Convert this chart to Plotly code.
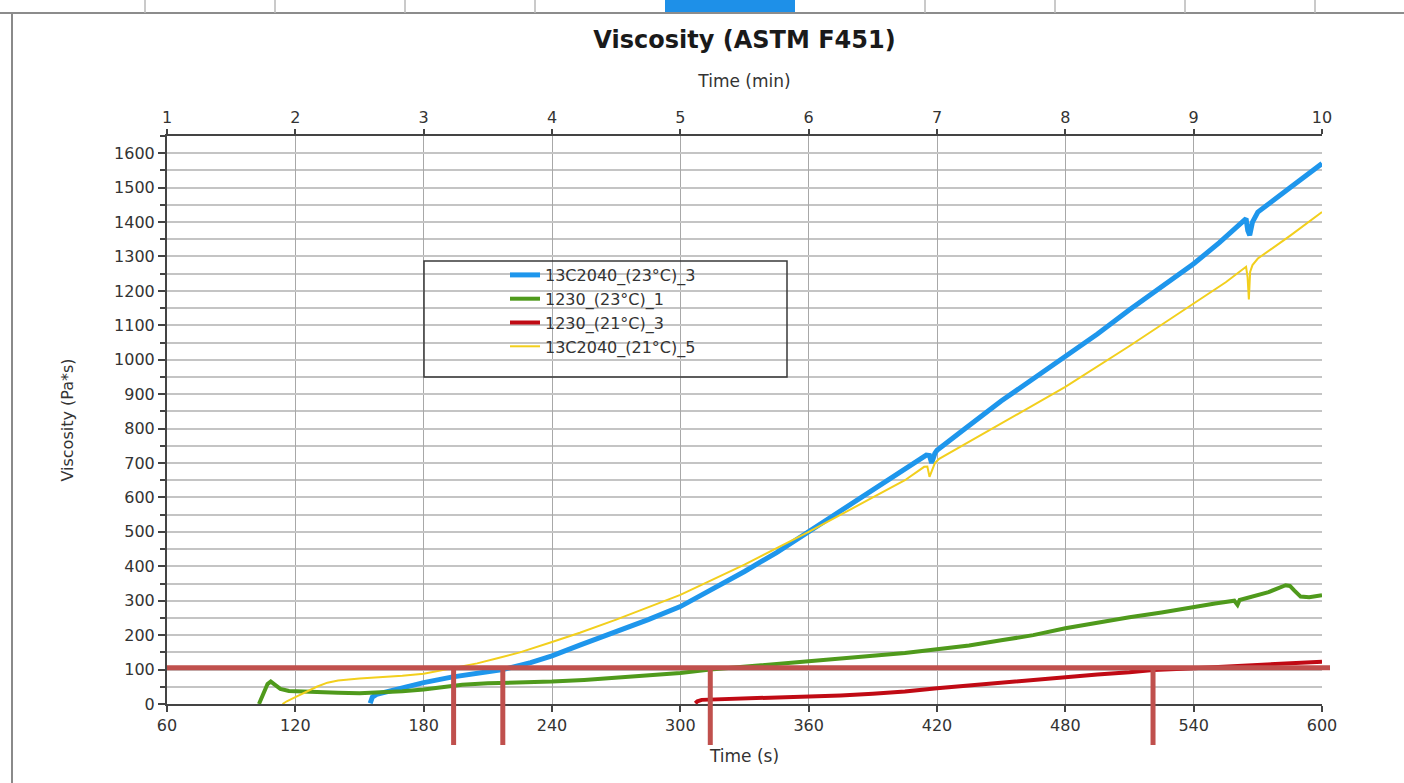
import plotly.graph_objects as go

# ---------------- data ----------------
blue_name = "13C2040_(23°C)_3"
blue_t = [155, 156, 158, 165, 172, 180, 193, 205, 217, 230, 240, 253, 270, 285, 300, 315, 330, 345, 360,
          375, 390, 405, 415, 416.5, 417.5, 419, 420, 430, 450, 465, 480, 495, 510, 525, 540, 552,
          564.5, 565.3, 566.2, 567.5, 570, 585, 600]
blue_v = [2, 20, 28, 40, 52, 62, 78, 88, 100, 120, 140, 171, 210, 245, 283, 332, 385, 440, 500,
          560, 620, 680, 723, 722, 700, 728, 737, 785, 880, 945, 1008, 1075, 1145, 1210, 1279, 1340,
          1410, 1375, 1362, 1400, 1429, 1500, 1570]

green_name = "1230_(23°C)_1"
green_t = [103, 105, 107, 108.5, 110, 113, 117, 120, 130, 140, 150, 155, 160, 170, 180, 190, 198, 210,
           225, 240, 255, 270, 285, 300, 314, 330, 345, 360, 375, 390, 405, 420, 435, 450, 465, 480,
           495, 510, 525, 540, 550, 559, 560.5, 561.5, 565, 575, 583, 585, 587, 590, 594, 600]
green_v = [0, 30, 58, 65, 58, 44, 38, 37, 34, 33, 31, 32, 34, 37, 42, 50, 56, 60,
           62, 65, 70, 77, 83, 90, 100, 108, 115, 123, 132, 140, 148, 158, 170, 185, 200, 220,
           237, 252, 266, 283, 292, 300, 288, 302, 308, 325, 345, 343, 330, 312, 310, 316]

red_name = "1230_(21°C)_3"
red_t = [307, 308, 310, 315, 330, 345, 360, 375, 390, 405, 420, 435, 450, 465, 480, 495, 510, 521,
         540, 555, 570, 585, 600]
red_v = [2, 8, 12, 13, 15, 18, 21, 25, 30, 36, 46, 54, 62, 70, 79, 86, 92, 99,
         104, 109, 114, 119, 123]

yellow_name = "13C2040_(21°C)_5"
yellow_t = [114, 116, 120, 125, 130, 135, 140, 150, 160, 170, 180, 193, 205, 214, 225, 240, 253, 270,
            285, 300, 330, 360, 390, 405, 414, 415.5, 416.5, 417.5, 419, 421, 450, 480, 510, 540, 555,
            564.5, 565.2, 565.8, 566.4, 567.5, 570, 585, 600]
yellow_v = [0, 8, 20, 35, 50, 62, 68, 74, 77, 82, 88, 103, 118, 132, 150, 180, 207, 245,
            280, 317, 405, 500, 600, 650, 689, 690, 660, 678, 700, 712, 815, 921, 1040, 1163, 1225,
            1270, 1240, 1175, 1255, 1275, 1294, 1360, 1429]

# hand-drawn markers: threshold level and crossing times (s)
threshold_v = 105
crossing_t = [194, 217, 314, 521]

x_ticks_s = [60, 120, 180, 240, 300, 360, 420, 480, 540, 600]
x_ticks_min = [1, 2, 3, 4, 5, 6, 7, 8, 9, 10]
X_RANGE = [60, 600]
Y_RANGE = [0, 1650]

# ---------------- figure ----------------
FONT = "DejaVu Sans, Arial, sans-serif"
TXT = "#333333"
fig = go.Figure()

fig.add_trace(go.Scatter(x=blue_t, y=blue_v, name=blue_name, mode="lines",
                         line=dict(color="#1E96EC", width=5)))
fig.add_trace(go.Scatter(x=green_t, y=green_v, name=green_name, mode="lines",
                         line=dict(color="#4F9A1C", width=4)))
fig.add_trace(go.Scatter(x=red_t, y=red_v, name=red_name, mode="lines",
                         line=dict(color="#C00A14", width=4)))
fig.add_trace(go.Scatter(x=yellow_t, y=yellow_v, name=yellow_name, mode="lines",
                         line=dict(color="#F2CF1D", width=2)))
# invisible trace to carry the top (minutes) axis
fig.add_trace(go.Scatter(x=x_ticks_min, y=[None] * len(x_ticks_min), xaxis="x2",
                         showlegend=False, hoverinfo="skip", mode="lines"))

W, H = 1404, 783
L, R, T, B = 167, 82, 136, 79
pw, ph = W - L - R, H - T - B

def xp(t):
    return (t - X_RANGE[0]) / (X_RANGE[1] - X_RANGE[0])

def yp(v):
    return (v - Y_RANGE[0]) / (Y_RANGE[1] - Y_RANGE[0])

def px_to_paper_x(px):
    return (px - L) / pw

def py_to_paper_y(py):
    return (H - B - py) / ph

shapes = []
RED = "#C0504D"
# horizontal threshold line
shapes.append(dict(type="line", xref="paper", yref="paper", x0=0, x1=1 + 8 / pw,
                   y0=yp(threshold_v), y1=yp(threshold_v), line=dict(color=RED, width=5), layer="above"))
for t in crossing_t:
    shapes.append(dict(type="line", xref="paper", yref="paper", x0=xp(t), x1=xp(t),
                       y0=yp(threshold_v), y1=py_to_paper_y(745), line=dict(color=RED, width=5),
                       layer="above"))

# legend frame
lx0, lx1, ly0, ly1 = 424, 787, 261, 377
shapes.append(dict(type="rect", xref="paper", yref="paper",
                   x0=px_to_paper_x(lx0), x1=px_to_paper_x(lx1),
                   y0=py_to_paper_y(ly1), y1=py_to_paper_y(ly0),
                   line=dict(color="#3a3a3a", width=1.5), fillcolor="rgba(0,0,0,0)", layer="above"))

# screenshot chrome (top bar and left border)
shapes.append(dict(type="line", xref="paper", yref="paper", x0=px_to_paper_x(0), x1=px_to_paper_x(W),
                   y0=py_to_paper_y(13), y1=py_to_paper_y(13), line=dict(color="#8c8c8c", width=2)))
shapes.append(dict(type="rect", xref="paper", yref="paper", x0=px_to_paper_x(665), x1=px_to_paper_x(795),
                   y0=py_to_paper_y(12), y1=py_to_paper_y(0), line=dict(width=0), fillcolor="#1E90E8"))
for sx in [145, 275, 405, 535, 925, 1055, 1185, 1315]:
    shapes.append(dict(type="line", xref="paper", yref="paper", x0=px_to_paper_x(sx), x1=px_to_paper_x(sx),
                       y0=py_to_paper_y(13), y1=py_to_paper_y(0), line=dict(color="#b8b8b8", width=1.5)))
shapes.append(dict(type="line", xref="paper", yref="paper", x0=px_to_paper_x(12), x1=px_to_paper_x(12),
                   y0=py_to_paper_y(14), y1=py_to_paper_y(H), line=dict(color="#8a8a8a", width=2)))

fig.update_layout(
    width=W, height=H,
    margin=dict(l=L, r=R, t=T, b=B),
    paper_bgcolor="white", plot_bgcolor="white",
    font=dict(family=FONT, size=14, color=TXT),
    title=dict(text="<b>Viscosity (ASTM F451)</b>", x=(L + pw / 2) / W, xanchor="center",
               y=1 - 40 / H, yanchor="middle", yref="container",
               font=dict(family=FONT, size=24, color="#1a1a1a")),
    showlegend=True,
    legend=dict(x=px_to_paper_x(505), y=py_to_paper_y(258), xanchor="left", yanchor="top",
                bgcolor="rgba(0,0,0,0)", borderwidth=0,
                font=dict(family=FONT, size=16, color=TXT), tracegroupgap=0),
    xaxis=dict(range=X_RANGE, tickvals=x_ticks_s, ticks="outside", ticklen=6, tickwidth=1.5,
               tickcolor="#444", showline=True, linecolor="#444", linewidth=2,
               showgrid=True, gridcolor="#a8a8a8", gridwidth=1.3, zeroline=False,
               tickfont=dict(size=16, color=TXT),
               title=dict(text="Time (s)", standoff=16, font=dict(size=17, color=TXT))),
    xaxis2=dict(range=[x_ticks_min[0], x_ticks_min[-1]], tickvals=x_ticks_min, overlaying="x", side="top",
                ticks="outside", ticklen=5, tickwidth=1.5, tickcolor="#444",
                showline=True, linecolor="#444", linewidth=2, showgrid=False, zeroline=False,
                tickfont=dict(size=16, color=TXT),
                title=dict(text="Time (min)", standoff=16, font=dict(size=17, color=TXT))),
    yaxis=dict(range=Y_RANGE, dtick=100, tick0=0, ticks="outside", ticklen=7, tickwidth=1.5,
               tickcolor="#444", showline=True, linecolor="#444", linewidth=2,
               showgrid=True, gridcolor="#c4c4c4", gridwidth=1.5, zeroline=False,
               minor=dict(dtick=50, ticks="outside", ticklen=5, tickcolor="#444", showgrid=True,
                          gridcolor="#c4c4c4", gridwidth=1.5),
               tickfont=dict(size=16, color=TXT),
               title=dict(text="Viscosity (Pa*s)", standoff=36, font=dict(size=16, color=TXT))),
    shapes=shapes,
)

fig.write_html("out.html", config={"displayModeBar": False},
               post_script="document.body.style.margin='0';document.body.style.overflow='hidden';")
